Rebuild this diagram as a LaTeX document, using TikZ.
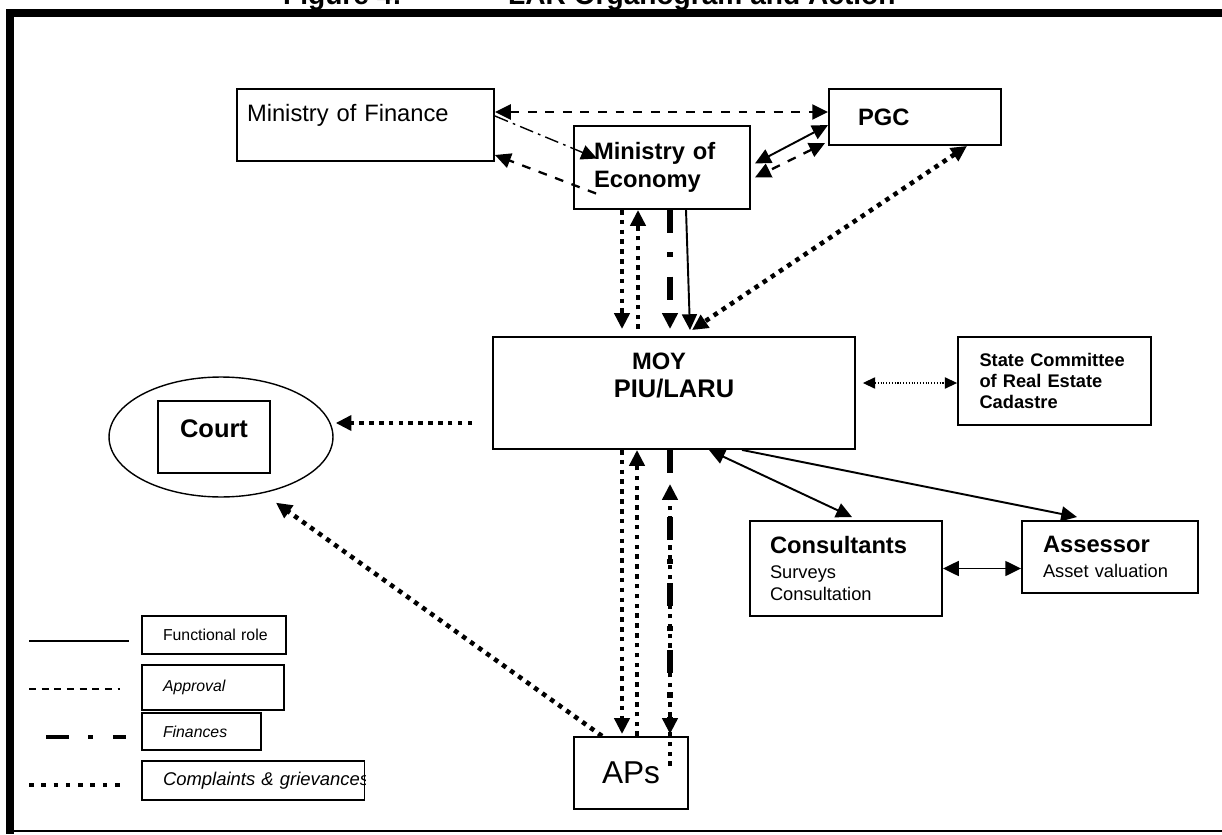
\documentclass[tikz,border=0pt]{standalone}
\usepackage{fontspec}
\setmainfont{Liberation Sans}
\usetikzlibrary{arrows.meta,positioning,calc,shapes.geometric}
\newcommand{\szmid}{\fontsize{13.5}{16}\selectfont}
\newcommand{\szbig}{\fontsize{14.5}{17}\selectfont}
\newcommand{\szsml}{\fontsize{10.4}{12.2}\selectfont}
\newcommand{\szkey}{\fontsize{9}{11}\selectfont}
\newcommand{\szcmp}{\fontsize{10.5}{12}\selectfont}
\newcommand{\szaps}{\fontsize{18}{21}\selectfont}
\newcommand{\sztitle}{\fontsize{16}{19}\selectfont\bfseries}
\tikzset{
  orgbox/.style={draw, rectangle, line width=1.1pt, inner ysep=0pt, align=left},
  keybox/.style={draw, rectangle, line width=0.85pt, inner ysep=0pt, inner xsep=0.42cm, align=left, font=\szkey},
  fun/.style={line width=1.1pt},
  appr/.style={line width=1.3pt, dash pattern=on 5pt off 5pt},
  fin/.style={line width=3pt, dash pattern=on 13pt off 11pt on 3pt off 11pt},
  cmp/.style={line width=2.6pt, dash pattern=on 2.6pt off 3pt},
  arr/.style={-{Triangle[length=9pt,width=8.5pt]}},
  barr/.style={{Triangle[length=9pt,width=8.5pt]}-{Triangle[length=9pt,width=8.5pt]}},
}
\begin{document}
\begin{tikzpicture}[x=0.02cm, y=-0.02cm]
\useasboundingbox (0,0) rectangle (1222,834);

% frame
\fill (6,9) rectangle (1222,17);
\fill (6,9) rectangle (14,834);
\draw[line width=0.8pt] (14,831) -- (1222,831);

% title, cut by the page edge
\node[anchor=base east, font=\sztitle] (fignum) at (408,5) {Figure 4:};
\node[anchor=base west, font=\sztitle] (figttl) at (502,5) {LAR Organogram and Action};

% boxes
\node[orgbox, font=\szmid, text width=4.74cm, inner xsep=0.2cm, minimum height=1.44cm] (mof) at (365.5,125) {Ministry of Finance\\[-2pt]\mbox{}};
\node[orgbox, font=\szmid\bfseries, text width=2.28cm, inner xsep=0.58cm, minimum height=1.12cm] (pgc) at (915,117) {PGC};
\node[orgbox, font=\szmid\bfseries, text width=2.72cm, inner xsep=0.4cm, minimum height=1.66cm] (moe) at (662,167.5) {Ministry of\\Economy};
\node[orgbox, align=center, font=\szmid\bfseries, minimum width=7.24cm, minimum height=2.24cm] (moy) at (674,393)
  {MOY\hspace*{0.6cm}\\{\szbig PIU/LARU}\hspace*{0.6cm}\\[4pt]\mbox{}};
\node[orgbox, font=\szsml\bfseries, text width=3.0cm, inner xsep=0.43cm, minimum height=1.76cm] (sc) at (1054.5,381) {State Committee\\of Real Estate\\Cadastre};

\node[draw, ellipse, line width=0.8pt, minimum width=4.48cm, minimum height=2.4cm] (court) at (221,437) {};
\node[orgbox, align=center, font=\szbig\bfseries, minimum width=2.24cm, minimum height=1.44cm] (courtlbl) at (214,437) {Court\\[-8pt]\mbox{}};

\node[orgbox, font=\szsml, text width=3.04cm, inner xsep=0.4cm, minimum height=1.9cm] (cons) at (846,568.5)
  {{\szmid\bfseries Consultants}\\[2pt]Surveys\\Consultation};
\node[orgbox, font=\szsml, text width=2.68cm, inner xsep=0.42cm, minimum height=1.44cm] (assr) at (1110,557)
  {{\szmid\bfseries Assessor}\\[2pt]Asset valuation};
\node[orgbox, align=center, font=\szaps, minimum width=2.28cm, minimum height=1.44cm] (aps) at (631,773) {APs};

% legend
\node[keybox, text width=2.04cm, minimum height=0.76cm] (keyfun) at (214,635) {Functional~role};
\node[keybox, text width=2.0cm, minimum height=0.9cm, font=\szkey\itshape] (keyapp) at (213,687.5) {Approval};
\node[keybox, text width=1.54cm, minimum height=0.74cm, font=\szkey\itshape] (keyfin) at (201.5,731.5) {Finances};
\begin{scope}
  \clip (140,758) rectangle (365.2,803);
  \node[keybox, text width=3.61cm, minimum height=0.78cm, font=\szcmp\itshape] (keycmp) at (253.25,780.5) {Complaints~\&~grievances};
\end{scope}
\draw[line width=1pt] (29,641) -- (129,641);
\draw[line width=0.7pt, dash pattern=on 4pt off 3.2pt] (29,689) -- (120,689);
\draw[fin, line width=2.8pt] (46,737) -- (126,737);
\draw[cmp, dash pattern=on 2.6pt off 4.4pt] (29,785) -- (120,785);

% approval
\draw[appr, barr] ($(mof.east)+(0,-13)$) -- ($(pgc.west)+(0,-5)$);
\draw[appr, arr] ($(moe.west)+(23,26)$) -- ($(mof.east)+(0,30)$);
\draw[appr, barr] ($(pgc.west)+(-3,26)$) -- ($(moe.east)+(4,10)$);
\draw[line width=0.8pt, dash pattern=on 8pt off 3pt on 1.5pt off 3pt, arr] ($(mof.east)+(0,-9)$) -- ($(moe.west)+(24,-9)$);

% functional role
\draw[fun, barr] ($(pgc.west)+(0,8)$) -- ($(moe.east)+(4,-4)$);
\draw[fun, arr] ($(moe.south)+(24,0)$) -- ($(moy.north)+(16,-6)$);
\draw[fun, barr] ($(moy.south)+(35,0)$) -- ($(cons.north)+(6,-3)$);
\draw[fun, arr] ($(moy.south)+(68,0)$) -- ($(assr.north)+(-33,-3)$);
\draw[fun, barr] (cons.east) -- (cons.east -| assr.west);
\draw[line width=0.6pt, densely dotted, {Triangle[length=7pt,width=6.5pt]}-{Triangle[length=7pt,width=6.5pt]}]
  ($(moy.east)+(7,-10)$) -- ($(sc.west)+(0,2)$);

% finances
\draw[fin, arr] ($(moe.south)+(8,0)$) -- ($(moy.north)+(-4,-7)$);
\draw[fin, arr] ($(moy.south)+(-4,0)$) -- ($(aps.north)+(39,-2)$);

% complaints
\draw[cmp, arr] ($(moe.south)+(-40,0)$) -- ($(moy.north)+(-52,-7)$);
\draw[cmp, arr] ($(moy.north)+(-36,-7)$) -- ($(moe.south)+(-24,0)$);
\draw[cmp, barr] ($(pgc.south)+(52,0)$) -- ($(moy.north)+(18,-6)$);
\draw[cmp, arr] ($(moy.west)+(-20,30)$) -- ($(court.east)+(2,-14)$);
\draw[cmp, arr] ($(moy.south)+(-52,0)$) -- ($(aps.north)+(-9,-2)$);
\draw[cmp, arr] ($(aps.north)+(6,0)$) -- ($(moy.south)+(-37,0)$);
\draw[cmp, arr] ($(aps.north)+(39,30)$) -- ($(moy.south)+(-4,34)$);
\draw[cmp, arr] ($(aps.north west)+(29,0)$) -- ($(court.south)+(55,5)$);

\end{tikzpicture}
\end{document}
